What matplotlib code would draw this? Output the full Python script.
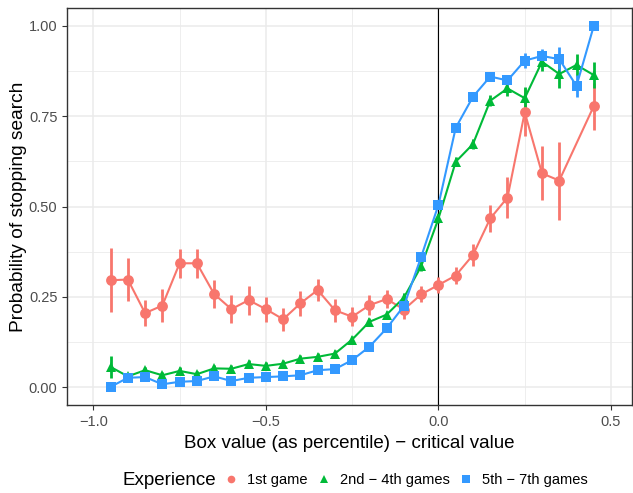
import matplotlib
matplotlib.use("Agg")
import matplotlib.pyplot as plt
import numpy as np

plt.rcParams['font.family'] = ['Liberation Sans', 'DejaVu Sans']

# valores de la caja (percentil) menos valor crítico
x_vals = [-0.95, -0.90, -0.85, -0.80, -0.75, -0.70, -0.65, -0.60, -0.55, -0.50,
          -0.45, -0.40, -0.35, -0.30, -0.25, -0.20, -0.15, -0.10, -0.05, 0.00,
          0.05, 0.10, 0.15, 0.20, 0.25, 0.30, 0.35, 0.40, 0.45]

# 1er juego (sin punto en 0.40)
x_first = [v for v in x_vals if abs(v - 0.40) > 1e-9]
p_first = [0.296, 0.298, 0.205, 0.226, 0.343, 0.343, 0.258, 0.216, 0.241, 0.216,
           0.188, 0.232, 0.269, 0.213, 0.195, 0.227, 0.244, 0.215, 0.257, 0.283,
           0.309, 0.366, 0.467, 0.525, 0.761, 0.592, 0.572, 0.778]
e_first = [0.088, 0.060, 0.035, 0.045, 0.040, 0.040, 0.040, 0.038, 0.040, 0.035,
           0.032, 0.035, 0.030, 0.032, 0.027, 0.027, 0.025, 0.025, 0.022, 0.023,
           0.023, 0.030, 0.038, 0.056, 0.066, 0.075, 0.108, 0.065]

p_second = [0.056, 0.030, 0.047, 0.033, 0.045, 0.036, 0.052, 0.051, 0.064, 0.059,
            0.065, 0.079, 0.084, 0.093, 0.132, 0.181, 0.201, 0.248, 0.335, 0.467,
            0.624, 0.673, 0.793, 0.827, 0.800, 0.901, 0.867, 0.892, 0.864]
e_second = [0.030, 0.010, 0.010, 0.010, 0.010, 0.010, 0.010, 0.010, 0.010, 0.010,
            0.010, 0.010, 0.010, 0.010, 0.010, 0.010, 0.010, 0.012, 0.012, 0.012,
            0.012, 0.015, 0.015, 0.020, 0.030, 0.025, 0.040, 0.030, 0.035]

p_third = [0.001, 0.026, 0.028, 0.008, 0.015, 0.017, 0.030, 0.017, 0.026, 0.028,
           0.030, 0.033, 0.047, 0.050, 0.075, 0.112, 0.163, 0.225, 0.361, 0.505,
           0.718, 0.804, 0.860, 0.849, 0.904, 0.917, 0.908, 0.834, 1.000]
e_third = [0.005, 0.006, 0.006, 0.006, 0.006, 0.006, 0.006, 0.006, 0.006, 0.006,
           0.006, 0.006, 0.008, 0.008, 0.008, 0.010, 0.010, 0.012, 0.012, 0.012,
           0.012, 0.012, 0.012, 0.015, 0.020, 0.020, 0.035, 0.030, 0.0]

series = [
    ("1st game", x_first, p_first, e_first, "#F8766D", "o"),
    ("2nd \u2212 4th games", x_vals, p_second, e_second, "#00BA38", "^"),
    ("5th \u2212 7th games", x_vals, p_third, e_third, "#3399FF", "s"),
]

fig = plt.figure(figsize=(6.33, 4.93), dpi=100)
ax = fig.add_axes([0.106, 0.178, 0.892, 0.806])

# rejilla estilo theme_bw
for v in [-1.0, -0.5, 0.0, 0.5]:
    ax.axvline(v, color="#EBEBEB", lw=1.1, zorder=0)
for v in [-0.75, -0.25, 0.25]:
    ax.axvline(v, color="#EBEBEB", lw=0.6, zorder=0)
for v in [0, 0.25, 0.5, 0.75, 1.0]:
    ax.axhline(v, color="#EBEBEB", lw=1.1, zorder=0)
for v in [0.125, 0.375, 0.625, 0.875]:
    ax.axhline(v, color="#EBEBEB", lw=0.6, zorder=0)

ax.axvline(0, color="black", lw=0.8, zorder=1)

handles = []
for label, xs, ys, es, col, mk in series:
    ax.errorbar(xs, ys, yerr=es, fmt="none", ecolor=col, elinewidth=2.0, capsize=0, zorder=2)
    ax.plot(xs, ys, color=col, lw=1.5, marker=mk, markersize=7.8 if mk != "s" else 7.2,
            markeredgewidth=0, zorder=3)
    h, = ax.plot([], [], color=col, lw=0, marker=mk, markersize=5.5, markeredgewidth=0)
    handles.append((h, label))

ax.set_xlim(-1.076, 0.560)
ax.set_ylim(-0.05, 1.05)
ax.set_xticks([-1.0, -0.5, 0.0, 0.5])
ax.set_xticklabels(["\u22121.0", "\u22120.5", "0.0", "0.5"])
ax.set_yticks([0, 0.25, 0.5, 0.75, 1.0])
ax.set_yticklabels(["0.00", "0.25", "0.50", "0.75", "1.00"])
ax.tick_params(colors="#333333", labelcolor="#4D4D4D", labelsize=10.5, length=3.5, width=0.8)
for s in ax.spines.values():
    s.set_color("#333333")
    s.set_linewidth(1.0)

ax.set_xlabel("Box value (as percentile) \u2212 critical value", fontsize=13.5, labelpad=4)
ax.set_ylabel("Probability of stopping search", fontsize=13.8, labelpad=1.5)

fig.text(0.193, 0.025, "Experience", fontsize=13.5, ha="left", va="center")
fig.legend([h for h, _ in handles], [l for _, l in handles], ncol=3, frameon=False,
           loc="center left", bbox_to_anchor=(0.3534, 0.026), fontsize=10.5,
           handletextpad=0.6, columnspacing=0.6, handlelength=1.0,
           borderpad=0, borderaxespad=0)

fig.savefig("out.png", dpi=100)
